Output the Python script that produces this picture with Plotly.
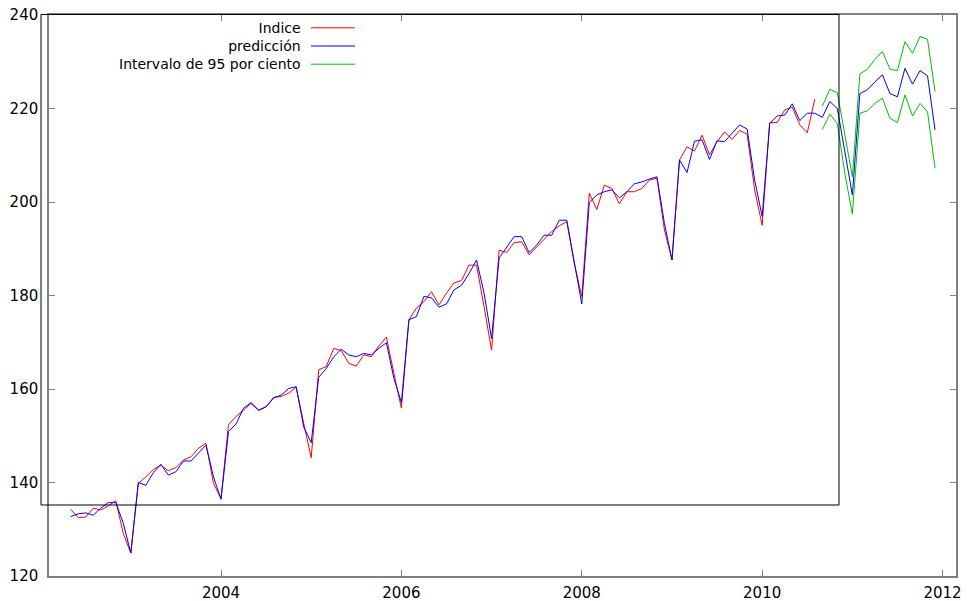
import plotly.graph_objects as go

# Monthly series, first observation May 2002
start_year = 2002
start_month = 5

indice = [
    134.3, 132.5, 132.6, 134.5, 134.1, 135.0, 136.1, 129.1, 124.9, 139.8, 141.2, 142.8,
    143.7, 142.5, 143.2, 144.8, 145.5, 147.3, 148.4, 139.8, 136.6,
    152.4, 154.1, 155.5, 156.9, 155.4, 156.2, 158.2, 158.4, 159.1, 160.4, 152.7, 145.3,
    164.1, 164.8, 168.7, 168.2, 165.5, 164.9, 167.3, 166.9, 169.2, 171.1, 163.4, 155.9,
    174.8, 177.3, 178.7, 180.8, 178.0, 180.5, 182.7, 183.2, 186.5, 186.5, 177.6, 168.3,
    189.7, 189.2, 191.3, 191.5, 188.7, 190.4, 192.2, 193.7, 194.9, 195.8, 186.9, 179.8,
    201.9, 198.4, 203.6, 202.9, 199.6, 202.2, 202.2, 202.9, 204.7, 205.1, 194.0, 187.6,
    209.0, 211.8, 210.9, 214.3, 210.1, 212.9, 215.0, 213.4, 215.3, 214.5, 202.6, 195.0,
    217.0, 217.0, 219.7, 220.3, 216.5, 214.8, 222.0,
]

prediccion = [
    132.7, 133.3, 133.5, 133.0, 134.5, 135.7, 135.7, 131.3, 124.9, 140.0, 139.4, 142.1,
    143.9, 141.6, 142.3, 144.6, 144.6, 146.2, 148.0, 141.2, 136.4,
    150.9, 152.5, 155.9, 157.1, 155.5, 156.2, 158.1, 158.7, 160.1, 160.5, 151.9, 148.5,
    162.5, 164.4, 166.9, 168.5, 167.3, 166.9, 167.6, 167.3, 168.7, 169.9, 162.3, 157.1,
    174.8, 175.5, 179.8, 179.5, 177.5, 178.2, 181.2, 182.2, 184.7, 187.6, 180.5, 170.8,
    188.0, 190.4, 192.6, 192.6, 189.2, 190.8, 192.9, 192.9, 196.1, 196.1, 186.9, 178.2,
    199.9, 201.5, 202.2, 202.6, 200.9, 202.2, 203.9, 204.3, 204.9, 205.4, 195.4, 187.6,
    209.0, 206.3, 213.0, 213.3, 209.1, 213.1, 212.9, 214.7, 216.5, 215.6, 204.7, 196.9,
    216.8, 218.4, 218.6, 221.0, 217.4, 219.0, 219.0, 218.1, 221.5, 220.0, 211.1, 201.5,
    223.2, 224.0, 225.7, 227.2, 223.2, 222.5, 228.6, 225.2, 228.1, 227.0, 215.4,
]

# 95% interval for the out-of-sample forecast (Sep 2010 - Dec 2011)
intervalo_sup = [220.5, 224.1, 223.4, 214.7, 205.4, 227.4, 228.4, 230.5,
                 232.2, 228.4, 228.1, 234.3, 231.8, 235.4, 234.8, 223.6]
intervalo_inf = [215.5, 218.8, 216.8, 206.1, 197.4, 219.0, 219.5, 221.1,
                 222.2, 217.9, 217.0, 222.9, 218.4, 221.1, 219.3, 207.2]

x_ticks = [2004, 2006, 2008, 2010, 2012]
y_ticks = [120, 140, 160, 180, 200, 220, 240]

etiquetas = ["Indice", "predicción", "Intervalo de 95 por ciento"]


def fechas(offset, n):
    """Decimal-year positions for n months starting `offset` months after the start."""
    return [start_year + (start_month - 1 + offset + i) / 12 for i in range(n)]


x_ind = fechas(0, len(indice))
x_pred = fechas(0, len(prediccion))
x_int = fechas(len(prediccion) - len(intervalo_sup), len(intervalo_sup))

ROJO = "#ff0000"
AZUL = "#0000ff"
VERDE = "#00c000"
GRIS = "#808080"
FUENTE = "DejaVu Sans"

fig = go.Figure()
fig.add_trace(go.Scatter(x=x_ind, y=indice, mode="lines", name=etiquetas[0],
                         line=dict(color=ROJO, width=1)))
fig.add_trace(go.Scatter(x=x_pred, y=prediccion, mode="lines", name=etiquetas[1],
                         line=dict(color=AZUL, width=1)))
fig.add_trace(go.Scatter(x=x_int, y=intervalo_sup, mode="lines",
                         name=etiquetas[2], legendgroup="int",
                         line=dict(color=VERDE, width=1)))
fig.add_trace(go.Scatter(x=x_int, y=intervalo_inf, mode="lines",
                         name=etiquetas[2], legendgroup="int",
                         line=dict(color=VERDE, width=1)))

# Plot area in pixels
W, H = 967, 601
L, R, T, B = 49, 11, 15, 25
pw, ph = W - L - R, H - T - B


def px(xp):
    return (xp - L) / pw


def py(yp):
    return (H - B - yp) / ph


# Key: right-aligned labels (one text block) followed by line samples
TAM_CLAVE = 14
paso = 1.3 * TAM_CLAVE
centro = 46
filas = [centro - paso, centro, centro + paso]
anotaciones = [dict(text="<br>".join(etiquetas), xref="paper", yref="paper",
                    x=px(303), y=py(centro), xanchor="right", yanchor="middle", align="right",
                    showarrow=False, font=dict(family=FUENTE, size=TAM_CLAVE, color="black"))]
formas = []
for yrow, col in zip(filas, [ROJO, AZUL, VERDE]):
    formas.append(dict(type="line", xref="paper", yref="paper",
                       x0=px(311), x1=px(355), y0=py(yrow), y1=py(yrow),
                       line=dict(color=col, width=1)))

# Key box
formas.append(dict(type="rect", xref="paper", yref="paper",
                   x0=px(41), x1=px(839), y0=py(505), y1=py(14.5),
                   line=dict(color="black", width=1), fillcolor="rgba(0,0,0,0)"))

eje = dict(showgrid=False, zeroline=False, showline=True, linecolor=GRIS, linewidth=1.5,
           mirror="ticks", ticks="inside", ticklen=6, tickwidth=1, tickcolor=GRIS,
           automargin=False, tickfont=dict(family=FUENTE, size=15, color="black"))

fig.update_layout(
    width=W, height=H,
    margin=dict(l=L, r=R, t=T, b=B, pad=0, autoexpand=False),
    paper_bgcolor="white", plot_bgcolor="white",
    showlegend=False,
    font=dict(family=FUENTE, size=15, color="black"),
    xaxis=dict(eje, range=[2002.093, 2012.149], tickvals=x_ticks,
               ticktext=[str(v) for v in x_ticks], ticklabelstandoff=2),
    yaxis=dict(eje, range=[120, 240], tickvals=y_ticks,
               ticktext=[str(v) for v in y_ticks], ticklabelstandoff=6),
    annotations=anotaciones,
    shapes=formas,
)

fig.write_html("out.html")
